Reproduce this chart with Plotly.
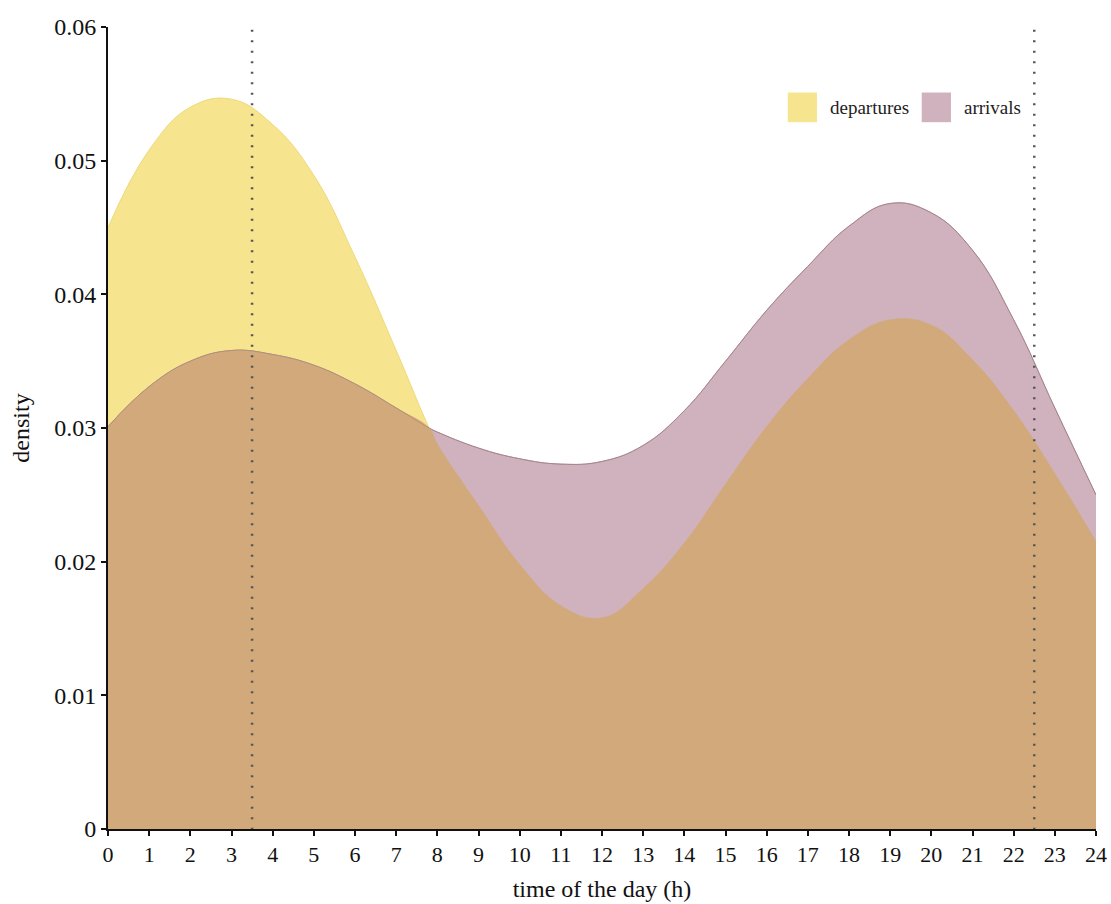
import numpy as np
import plotly.graph_objects as go

# ---- data ----
hours = [0, 1, 2, 3, 4, 5, 6, 7, 7.8, 8, 9, 10, 11, 12, 13, 14, 15, 16, 17, 18, 19, 20, 21, 22, 23, 24]
departures = [0.0450, 0.0508, 0.0540, 0.0546, 0.0527, 0.0489, 0.0428, 0.0358, 0.0300, 0.0288, 0.0242,
              0.0198, 0.0167, 0.0158, 0.0180, 0.0214, 0.0258, 0.0301, 0.0337, 0.0366, 0.0381, 0.0377,
              0.0351, 0.0313, 0.0266, 0.0215]
arrivals = [0.0301, 0.0331, 0.0350, 0.0358, 0.0355, 0.0347, 0.0333, 0.0315, 0.0300, 0.0297, 0.0285,
            0.0277, 0.0273, 0.0275, 0.0287, 0.0313, 0.0350, 0.0388, 0.0421, 0.0451, 0.0468, 0.0461,
            0.0433, 0.0381, 0.0315, 0.0250]
marker_hours = [3.5, 22.5]
x_ticks = list(range(0, 25))
y_ticks = [0, 0.01, 0.02, 0.03, 0.04, 0.05, 0.06]
y_tick_text = ["0", "0.01", "0.02", "0.03", "0.04", "0.05", "0.06"]
series_names = ["departures", "arrivals"]

# ---- style ----
YELLOW = "#f6e58e"
MAUVE = "#cfb2bd"
TAN = "#d1a97a"
FONT = "Liberation Serif, Times New Roman, serif"
SMOOTH = 1.2

overlap = np.minimum(np.array(departures), np.array(arrivals)).tolist()

fig = go.Figure()
fig.add_trace(go.Scatter(x=hours, y=departures, mode="lines", line=dict(color="#efd97a", width=1, shape="spline", smoothing=SMOOTH),
                         fill="tozeroy", fillcolor=YELLOW, name=series_names[0], showlegend=False, hoverinfo="x+y"))
fig.add_trace(go.Scatter(x=hours, y=arrivals, mode="lines", line=dict(color="#a98b98", width=1, shape="spline", smoothing=SMOOTH),
                         fill="tozeroy", fillcolor=MAUVE, name=series_names[1], showlegend=False, hoverinfo="x+y"))
fig.add_trace(go.Scatter(x=hours, y=overlap, mode="lines", line=dict(color=TAN, width=0.5, shape="spline", smoothing=SMOOTH),
                         fill="tozeroy", fillcolor=TAN, name="overlap", showlegend=False, hoverinfo="skip"))
fig.add_trace(go.Scatter(x=hours, y=arrivals, mode="lines", line=dict(color="rgba(160,125,120,0.55)", width=1, shape="spline", smoothing=SMOOTH),
                         showlegend=False, hoverinfo="skip"))

# dotted vertical markers
for h in marker_hours:
    fig.add_shape(type="line", xref="x", yref="y", x0=h, x1=h, y0=0.0598, y1=0,
                  line=dict(color="#555555", width=2.5, dash="2px,8.5px"))

# manual legend (boxes + labels)
legend_items = [(series_names[0], YELLOW, 0.6880), (series_names[1], MAUVE, 0.8236)]
for name, col, bx in legend_items:
    fig.add_shape(type="rect", xref="paper", yref="paper", x0=bx, x1=bx + 0.0296,
                  y0=0.8813, y1=0.9183, line=dict(width=0), fillcolor=col)
    fig.add_annotation(xref="paper", yref="paper", x=bx + 0.041, y=0.8998, text=name, showarrow=False,
                       xanchor="left", yanchor="middle", font=dict(family=FONT, size=19, color="#222"))

fig.update_layout(
    width=1111, height=904,
    margin=dict(l=108, r=15, t=27, b=75),
    paper_bgcolor="white", plot_bgcolor="white",
    font=dict(family=FONT, color="#111"),
    showlegend=False,
)
fig.update_xaxes(range=[0, 24], tickvals=x_ticks, ticktext=[str(t) for t in x_ticks],
                 showgrid=False, zeroline=False, showline=True, linecolor="#111", linewidth=2,
                 ticks="outside", ticklen=5, tickwidth=1.5, tickcolor="#111",
                 tickfont=dict(family=FONT, size=22, color="#111"),
                 title=dict(text="time of the day (h)", font=dict(family=FONT, size=24, color="#111"), standoff=14),
                 automargin=False)
fig.update_yaxes(range=[0, 0.06], tickvals=y_ticks, ticktext=y_tick_text,
                 showgrid=False, zeroline=False, showline=True, linecolor="#111", linewidth=2,
                 ticks="outside", ticklen=5, tickwidth=1.5, tickcolor="#111",
                 tickfont=dict(family=FONT, size=24, color="#111"),
                 title=dict(text="density", font=dict(family=FONT, size=24, color="#111"), standoff=18),
                 automargin=False)

fig.write_html("out.html", config={"displayModeBar": False},
               post_script="document.body.style.margin='0px';document.body.style.overflow='hidden';")
